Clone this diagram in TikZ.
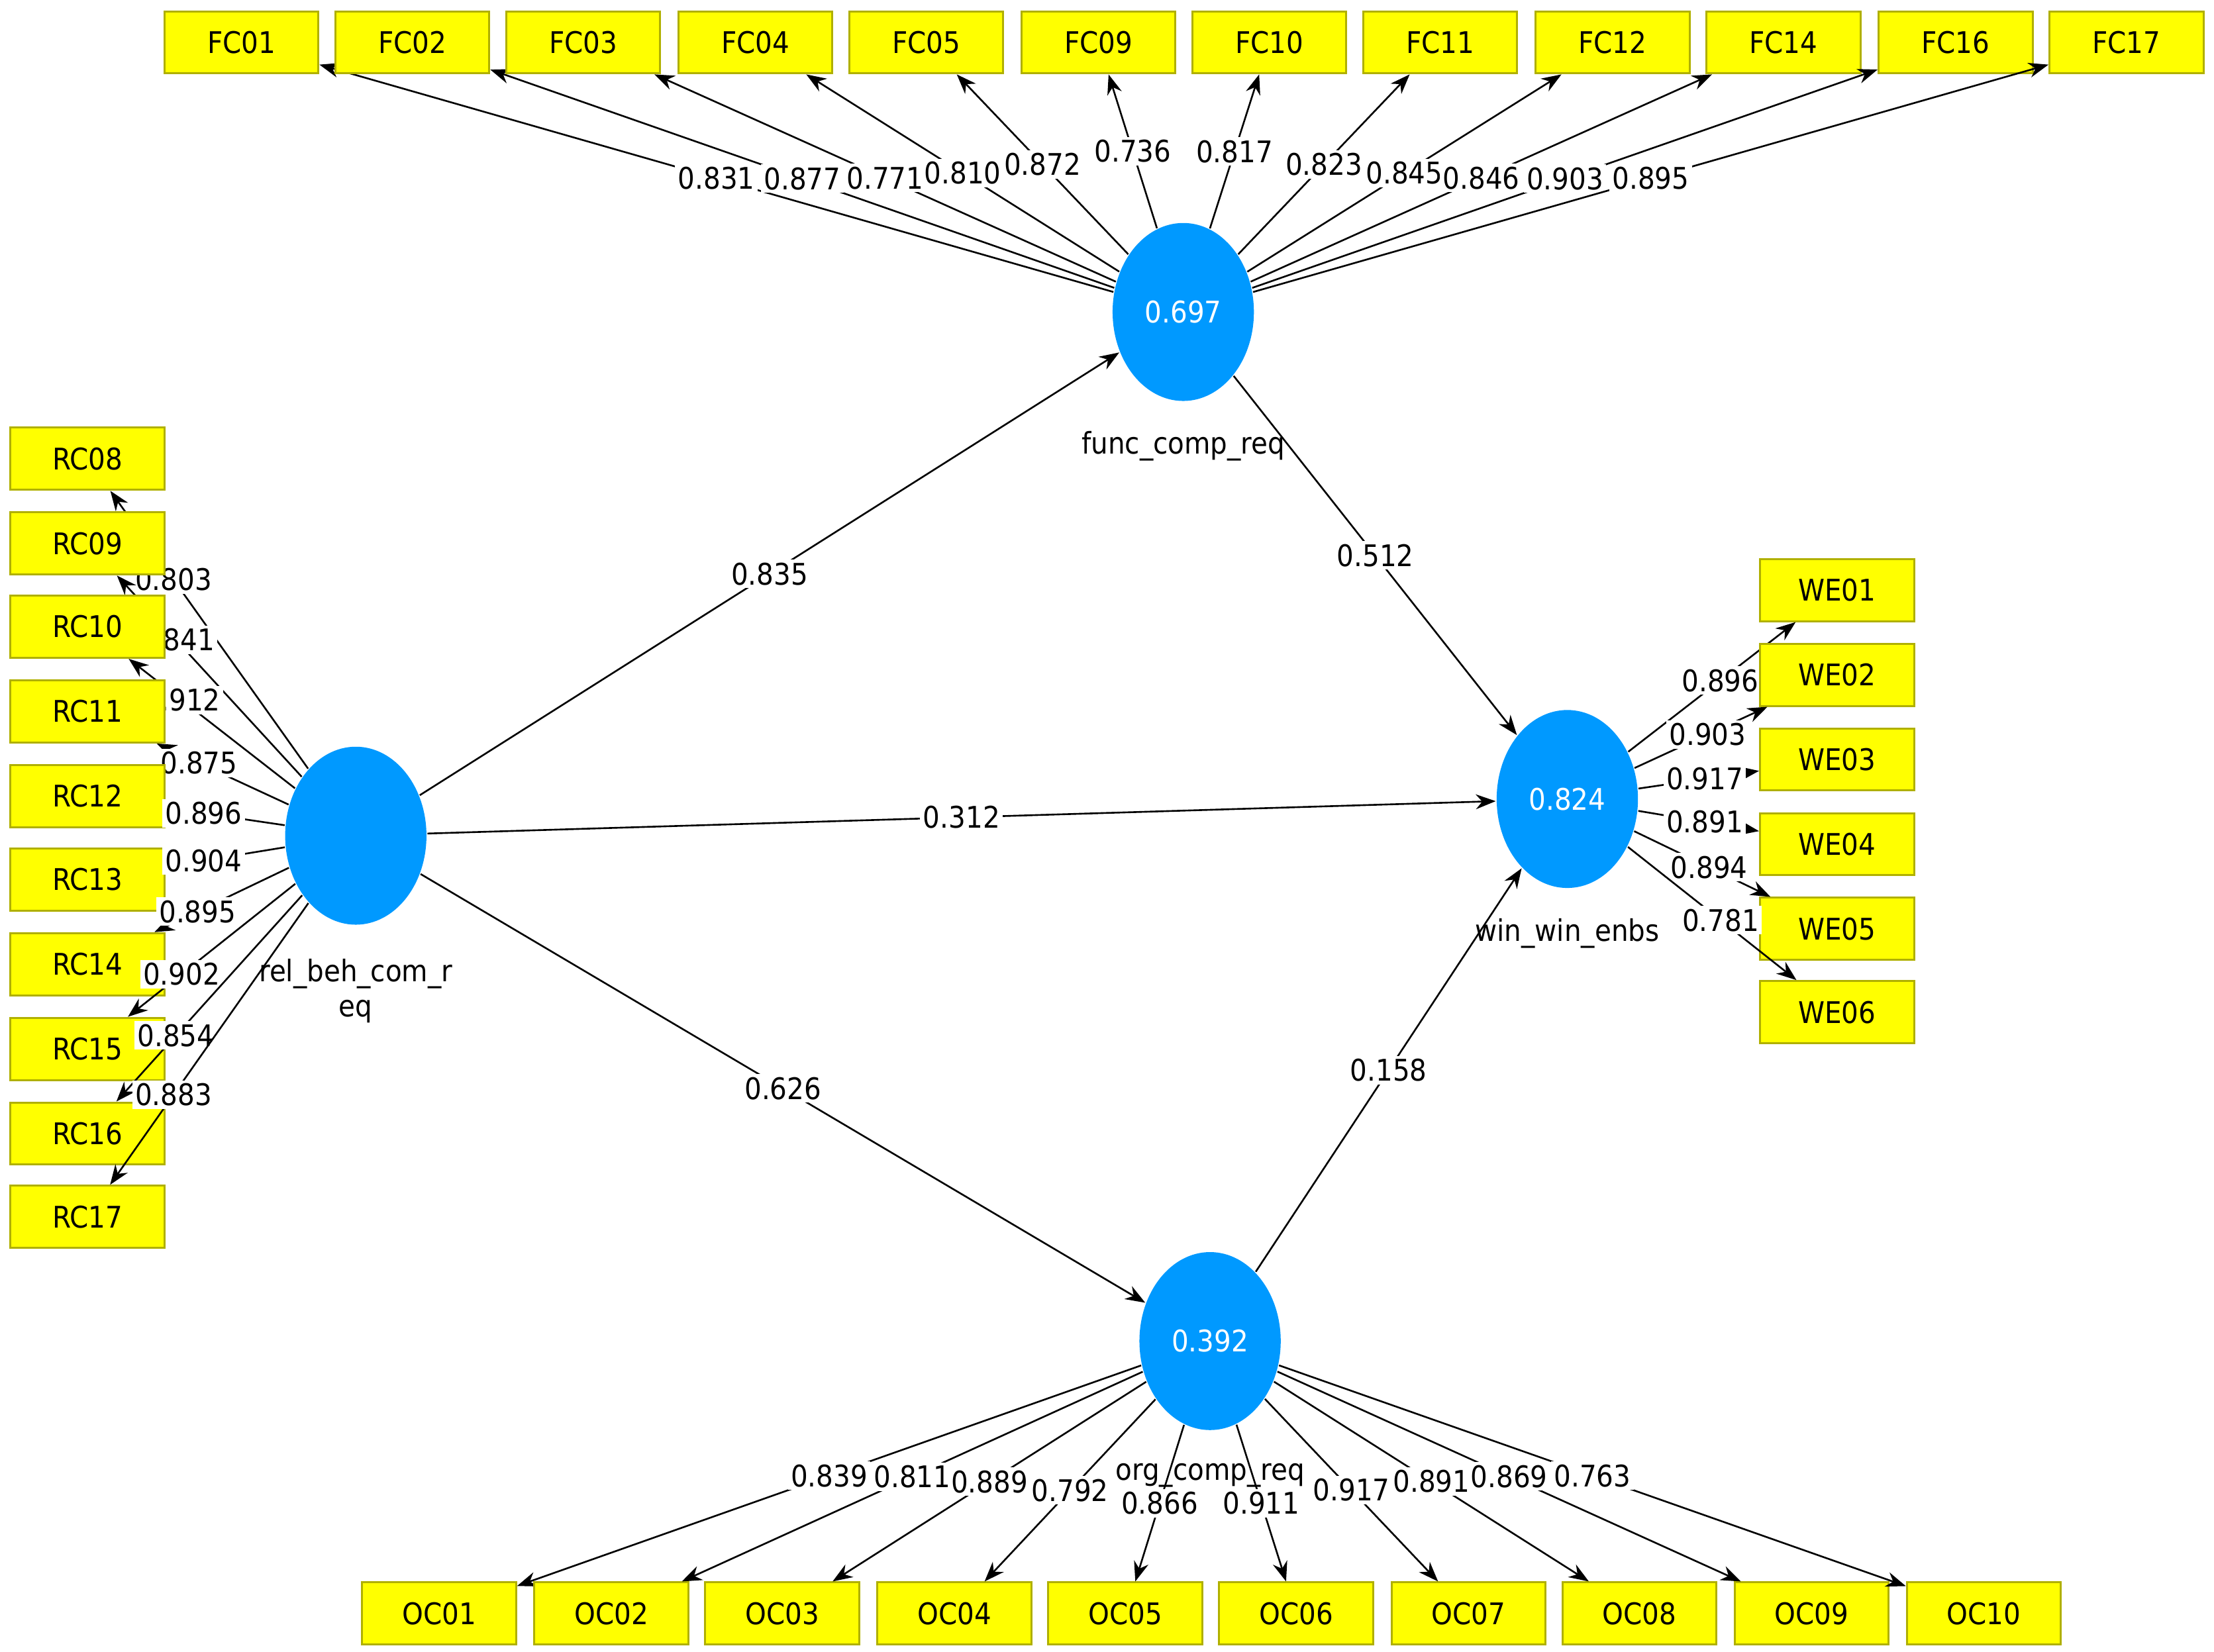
\documentclass[tikz,border=0pt]{standalone}
\usepackage{fontspec}
\setmainfont{DejaVu Sans Condensed}
\usetikzlibrary{arrows.meta}
\definecolor{boxy}{HTML}{FFFF00}
\definecolor{boxb}{HTML}{B0B000}
\definecolor{lat}{HTML}{0099FF}
\begin{document}
\begin{tikzpicture}[x=0.01cm,y=-0.01cm,
  ind/.style={draw=boxb,fill=boxy,line width=0.4pt,minimum width=1.09cm,minimum height=0.44cm,inner sep=0pt,font=\fontsize{6}{7}\selectfont},
  lv/.style={ellipse,fill=lat,minimum width=1.0cm,minimum height=1.26cm,inner sep=0pt,text=white,font=\fontsize{6}{7}\selectfont},
  lab/.style={font=\fontsize{6}{7}\selectfont,inner sep=0.5pt},
  ld/.style={fill=white,font=\fontsize{6}{7}\selectfont,inner sep=0.6pt},
  arr/.style={-{Stealth[length=4pt,width=3pt]},line width=0.35pt}]
\usetikzlibrary{shapes.geometric}
\useasboundingbox (0,0) rectangle (1568,1170);
% latent
\node[lv] (F) at (838,221) {0.697};
\node[lv] (R) at (252,592) {};
\node[lv] (W) at (1110,566) {0.824};
\node[lv] (O) at (857,950) {0.392};
\node[lab] at (838,316) {func\_comp\_req};
\node[lab,align=center] at (252,702) {rel\_beh\_com\_r\\eq};
\node[lab] at (1110,661) {win\_win\_enbs};
\node[lab] at (857,1045) {org\_comp\_req};
% FC
\foreach \n/\x/\v in {FC01/171/0.831,FC02/292/0.877,FC03/413/0.771,FC04/535/0.810,FC05/656/0.872,FC09/778/0.736,FC10/899/0.817,FC11/1020/0.823,FC12/1142/0.845,FC14/1263/0.846,FC16/1385/0.903,FC17/1506/0.895}{
  \node[ind] (\n) at (\x,30) {\n};
  \draw[arr] (F) -- node[ld,pos=0.5] {\v} (\n);
}
% RC
\foreach \n/\y/\v in {RC08/325/0.803,RC09/385/0.841,RC10/444/0.912,RC11/504/0.875,RC12/564/0.896,RC13/623/0.904,RC14/683/0.895,RC15/743/0.902,RC16/803/0.854,RC17/862/0.883}{
  \node[ind] (\n) at (62,\y) {\n};
  \draw[arr] (R) -- node[ld,pos=0.68] {\v} (\n);
}
% WE
\foreach \n/\y/\v in {WE01/418/0.896,WE02/478/0.903,WE03/538/0.917,WE04/598/0.891,WE05/658/0.894,WE06/717/0.781}{
  \node[ind] (\n) at (1301,\y) {\n};
  \draw[arr] (W) -- node[ld,pos=0.55] {\v} (\n);
}
% OC
\foreach \n/\x/\v in {OC01/311/0.839,OC02/433/0.811,OC03/554/0.889,OC04/676/0.792,OC05/797/0.866,OC06/918/0.911,OC07/1040/0.917,OC08/1161/0.891,OC09/1283/0.869,OC10/1405/0.763}{
  \node[ind] (\n) at (\x,1143) {\n};
  \draw[arr] (O) -- node[ld,pos=0.5] {\v} (\n);
}
% structural
\draw[arr] (R) -- node[ld] {0.835} (F);
\draw[arr] (R) -- node[ld] {0.312} (W);
\draw[arr] (R) -- node[ld] {0.626} (O);
\draw[arr] (F) -- node[ld] {0.512} (W);
\draw[arr] (O) -- node[ld] {0.158} (W);
\end{tikzpicture}
\end{document}
